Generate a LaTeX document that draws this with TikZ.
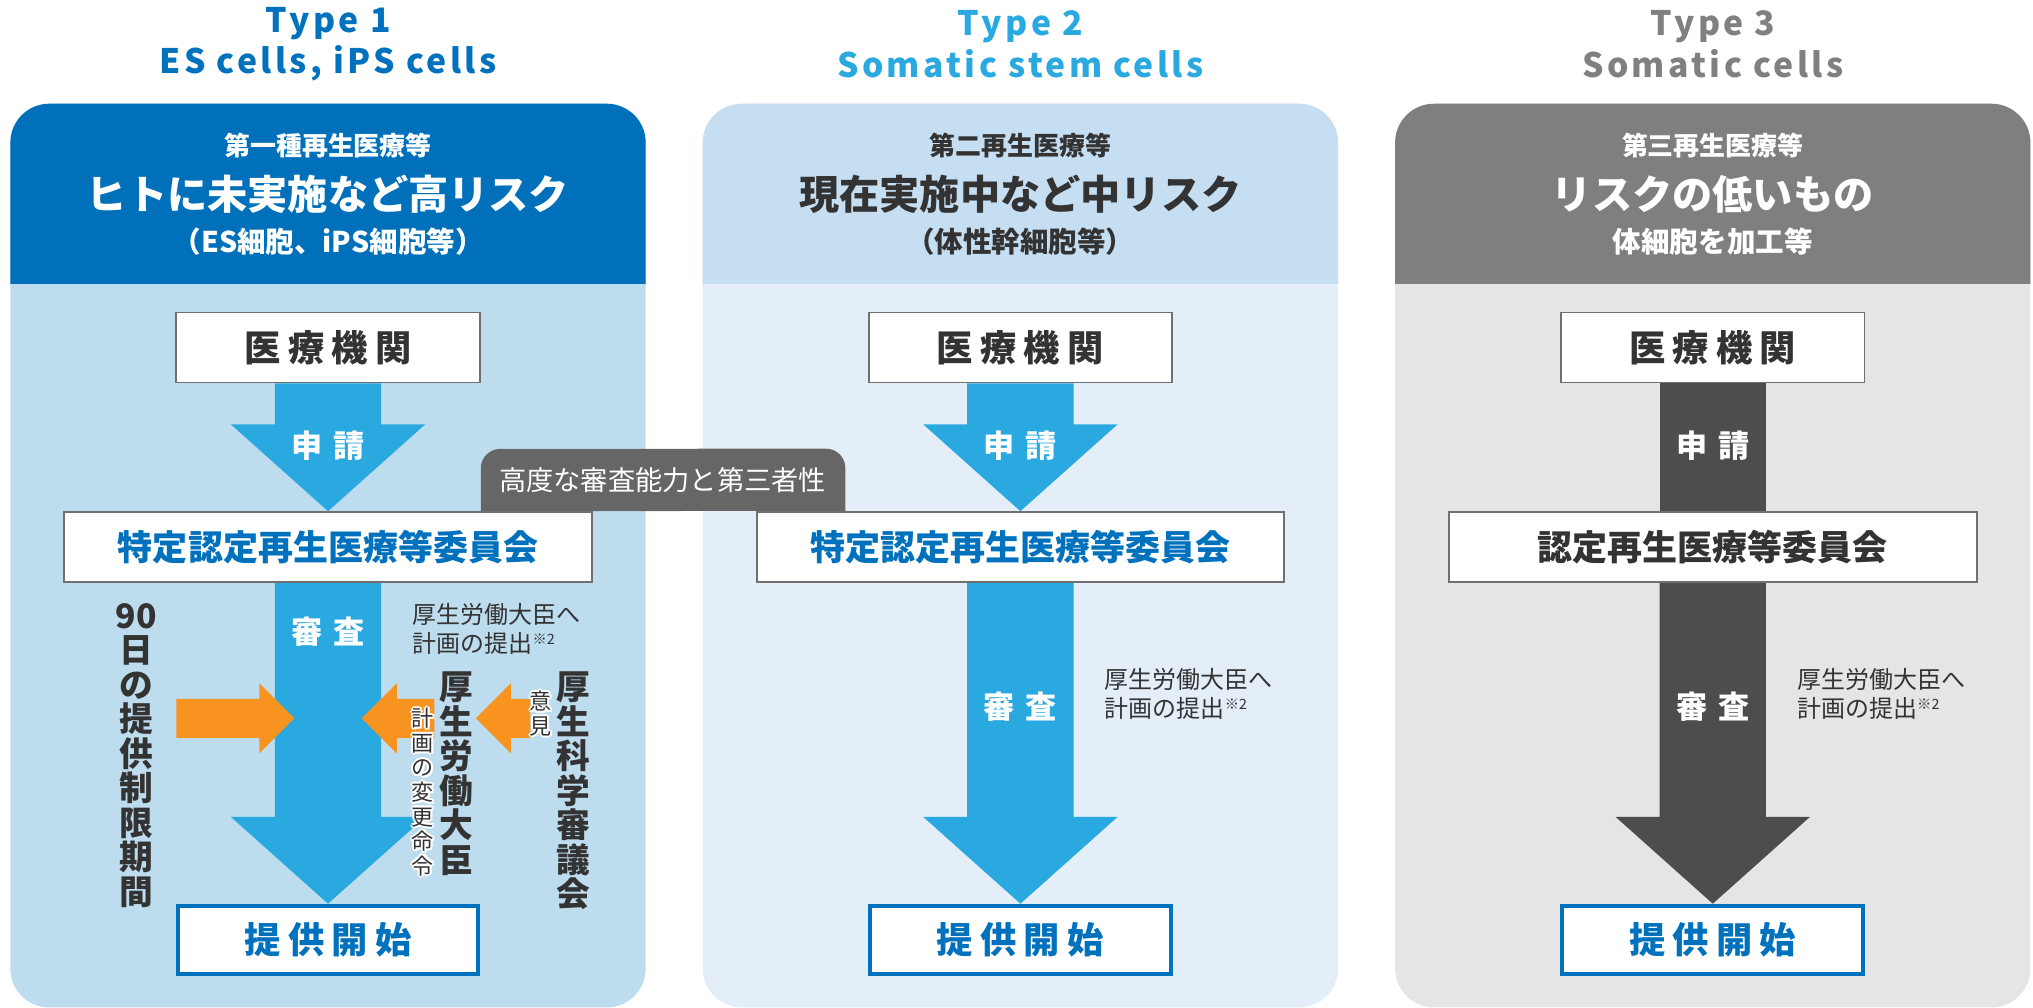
\documentclass[tikz,border=0pt]{standalone}
\usepackage{fontspec}
\setmainfont{Noto Sans CJK JP}
\newfontfamily\titlefont{Noto Sans CJK JP}[LetterSpace=10]
\newfontfamily\widejp{Noto Sans CJK JP}[LetterSpace=20]
\newfontfamily\widerjp{Noto Sans CJK JP}[LetterSpace=35]
\usetikzlibrary{calc,backgrounds}
\definecolor{blueA}{HTML}{0071BC}
\definecolor{blueB}{HTML}{29A9E0}
\definecolor{grayT}{HTML}{808080}
\definecolor{hdrA}{HTML}{0070BA}
\definecolor{bodyA}{HTML}{BDDCEE}
\definecolor{hdrB}{HTML}{C6DEF2}
\definecolor{bodyB}{HTML}{E4EEF8}
\definecolor{hdrC}{HTML}{7F7F7F}
\definecolor{bodyC}{HTML}{E5E5E5}
\definecolor{darkA}{HTML}{4D4D4D}
\definecolor{tagA}{HTML}{666666}
\definecolor{orangeA}{HTML}{F7931E}
\definecolor{txtdark}{HTML}{333333}
\definecolor{boxgray}{HTML}{707070}

\newcommand{\blockarrow}[3]{% colour, from, to
  \fill[#1] ($(#2)+(-41,0)$) -- ($(#3)+(-41,-67)$) -- ($(#3)+(-75,-67)$) -- (#3)
    -- ($(#3)+(75,-67)$) -- ($(#3)+(41,-67)$) -- ($(#2)+(41,0)$) -- cycle;}
\newcommand{\sidearrow}[3]{% tip, direction, shaft length
  \fill[orangeA] (#1) -- ++({-27*#2},-27) -- ++(0,12) -- ++({-#3*#2},0) -- ++(0,30)
    -- ++({#3*#2},0) -- ++(0,12) -- cycle;}
\newcommand{\halonode}[3]{% name, position, text
  \foreach \a in {0,45,...,315} \node[vsmall,text=white] at ($(#2)+(\a:1.6)$) {#3};
  \node[vsmall] (#1) at (#2) {#3};}

\begin{document}
\begin{tikzpicture}[x=1pt,y=-1pt,
  every node/.style={inner sep=0pt},
  typetitle/.style={align=center, font=\titlefont\bfseries\fontsize{26}{32}\selectfont},
  hdsmall/.style={font=\bfseries\fontsize{20}{22}\selectfont},
  hdbig/.style={font=\bfseries\fontsize{31}{33}\selectfont},
  hdsub/.style={font=\bfseries\fontsize{22}{24}\selectfont},
  inst/.style={draw=boxgray, line width=1.5pt, fill=white, minimum width=234pt,
    minimum height=54pt, text=txtdark, font=\widejp\bfseries\fontsize{28}{30}\selectfont},
  comm/.style={draw=boxgray, line width=1.5pt, fill=white, minimum width=407pt,
    minimum height=54pt, font=\bfseries\fontsize{27}{29}\selectfont},
  startbox/.style={draw=blueA, line width=3pt, fill=white, minimum width=232pt,
    minimum height=53pt, text=blueA, font=\widejp\bfseries\fontsize{28}{30}\selectfont},
  flowtext/.style={text=white, font=\widerjp\bfseries\fontsize{24}{26}\selectfont},
  notetext/.style={anchor=west, align=left, text=txtdark, font=\fontsize{18.5}{22}\selectfont},
  vbig/.style={anchor=north, align=center, text=txtdark, font=\bfseries\fontsize{26}{26.6}\selectfont},
  vsmall/.style={anchor=north, align=center, text=txtdark, font=\fontsize{17}{19}\selectfont}]
\useasboundingbox (0,0) rectangle (1568,777);

\node[typetitle, text=blueA] (title1) at (253,34) {Type 1\\ES cells, iPS cells};
\node[typetitle, text=blueB] (title2) at (787,34) {Type 2\\Somatic stem cells};
\node[typetitle, text=grayT] (title3) at (1321,34) {Type 3\\Somatic cells};

\node[hdsmall, text=white] (kind1) at (253,112) {第一種再生医療等};
\node[hdbig, text=white] (risk1) at (253,150) {ヒトに未実施など高リスク};
\node[hdsub, text=white] (cell1) at (253,186) {（ES細胞、iPS細胞等）};
\node[hdsmall, text=txtdark] (kind2) at (787,112) {第二再生医療等};
\node[hdbig, text=txtdark] (risk2) at (787,150) {現在実施中など中リスク};
\node[hdsub, text=txtdark] (cell2) at (787,186) {（体性幹細胞等）};
\node[hdsmall, text=white] (kind3) at (1321,112) {第三再生医療等};
\node[hdbig, text=white] (risk3) at (1321,150) {リスクの低いもの};
\node[hdsub, text=white] (cell3) at (1321,186) {体細胞を加工等};

\node[text=white, font=\fontsize{21}{23}\selectfont] (tag) at (511,370) {高度な審査能力と第三者性};

\node[inst] (inst1) at (253,268) {医療機関};
\node[inst] (inst2) at (787,268) {医療機関};
\node[inst] (inst3) at (1321,268) {医療機関};
\node[comm, text=blueA] (com1) at (253,422) {特定認定再生医療等委員会};
\node[comm, text=blueA] (com2) at (787,422) {特定認定再生医療等委員会};
\node[comm, text=txtdark] (com3) at (1321,422) {認定再生医療等委員会};
\node[startbox] (start1) at (253,725) {提供開始};
\node[startbox] (start2) at (787,725) {提供開始};
\node[startbox] (start3) at (1321,725) {提供開始};

\begin{scope}[on background layer]
\foreach \x/\hd/\bd in {8/hdrA/bodyA, 542/hdrB/bodyB, 1076/hdrC/bodyC}{
  \fill[\bd, rounded corners=30pt] (\x,80) rectangle ++(490,697);
  \fill[\hd] (\x,219) [rounded corners=30pt] -- (\x,80) -- ++(490,0) [sharp corners] -- ++(0,139) -- cycle;
}
\fill[tagA] (com1.north east -| tag.west) ++(-14,0) [rounded corners=15pt] -- ++(0,-48) -- (652,346) [sharp corners] -- (652,394) -- cycle;
\blockarrow{blueB}{inst1.south}{com1.north}
\blockarrow{blueB}{inst2.south}{com2.north}
\fill[darkA] ($(inst3.south)+(-41,0)$) rectangle ($(com3.north)+(41,0)$);
\blockarrow{blueB}{com1.south}{start1.north}
\blockarrow{blueB}{com2.south}{start2.north}
\blockarrow{darkA}{com3.south}{start3.north}
\end{scope}

\node[flowtext] (apply1) at (253,344) {申請};
\node[flowtext] (apply2) at (787,344) {申請};
\node[flowtext] (apply3) at (1321,344) {申請};
\node[flowtext] (review1) at (253,487) {審査};
\node[flowtext] (review2) at (787,545) {審査};
\node[flowtext] (review3) at (1321,545) {審査};

\node[notetext] (note1) at (318,485) {厚生労働大臣へ\\計画の提出{\fontsize{11}{11}\selectfont\raisebox{6pt}{※2}}};
\node[notetext] (note2) at (852,535) {厚生労働大臣へ\\計画の提出{\fontsize{11}{11}\selectfont\raisebox{6pt}{※2}}};
\node[notetext] (note3) at (1386,535) {厚生労働大臣へ\\計画の提出{\fontsize{11}{11}\selectfont\raisebox{6pt}{※2}}};

\coordinate (tipA) at (227,554);
\coordinate (tipB) at (279,554);
\coordinate (tipC) at (367,554);
\sidearrow{tipA}{1}{64}
\sidearrow{tipB}{-1}{29}
\sidearrow{tipC}{-1}{15}

\node[vbig] (limit) at (105,465) {90\\日\\の\\提\\供\\制\\限\\期\\間};
\node[vbig] (minister) at (352,518) {厚\\生\\労\\働\\大\\臣};
\node[vbig] (council) at (442,518) {厚\\生\\科\\学\\審\\議\\会};
\coordinate (orderpos) at (326,546);
\coordinate (opinionpos) at (417,533);
\halonode{order}{orderpos}{計\\画\\の\\変\\更\\命\\令}
\halonode{opinion}{opinionpos}{意\\見}
\end{tikzpicture}
\end{document}
